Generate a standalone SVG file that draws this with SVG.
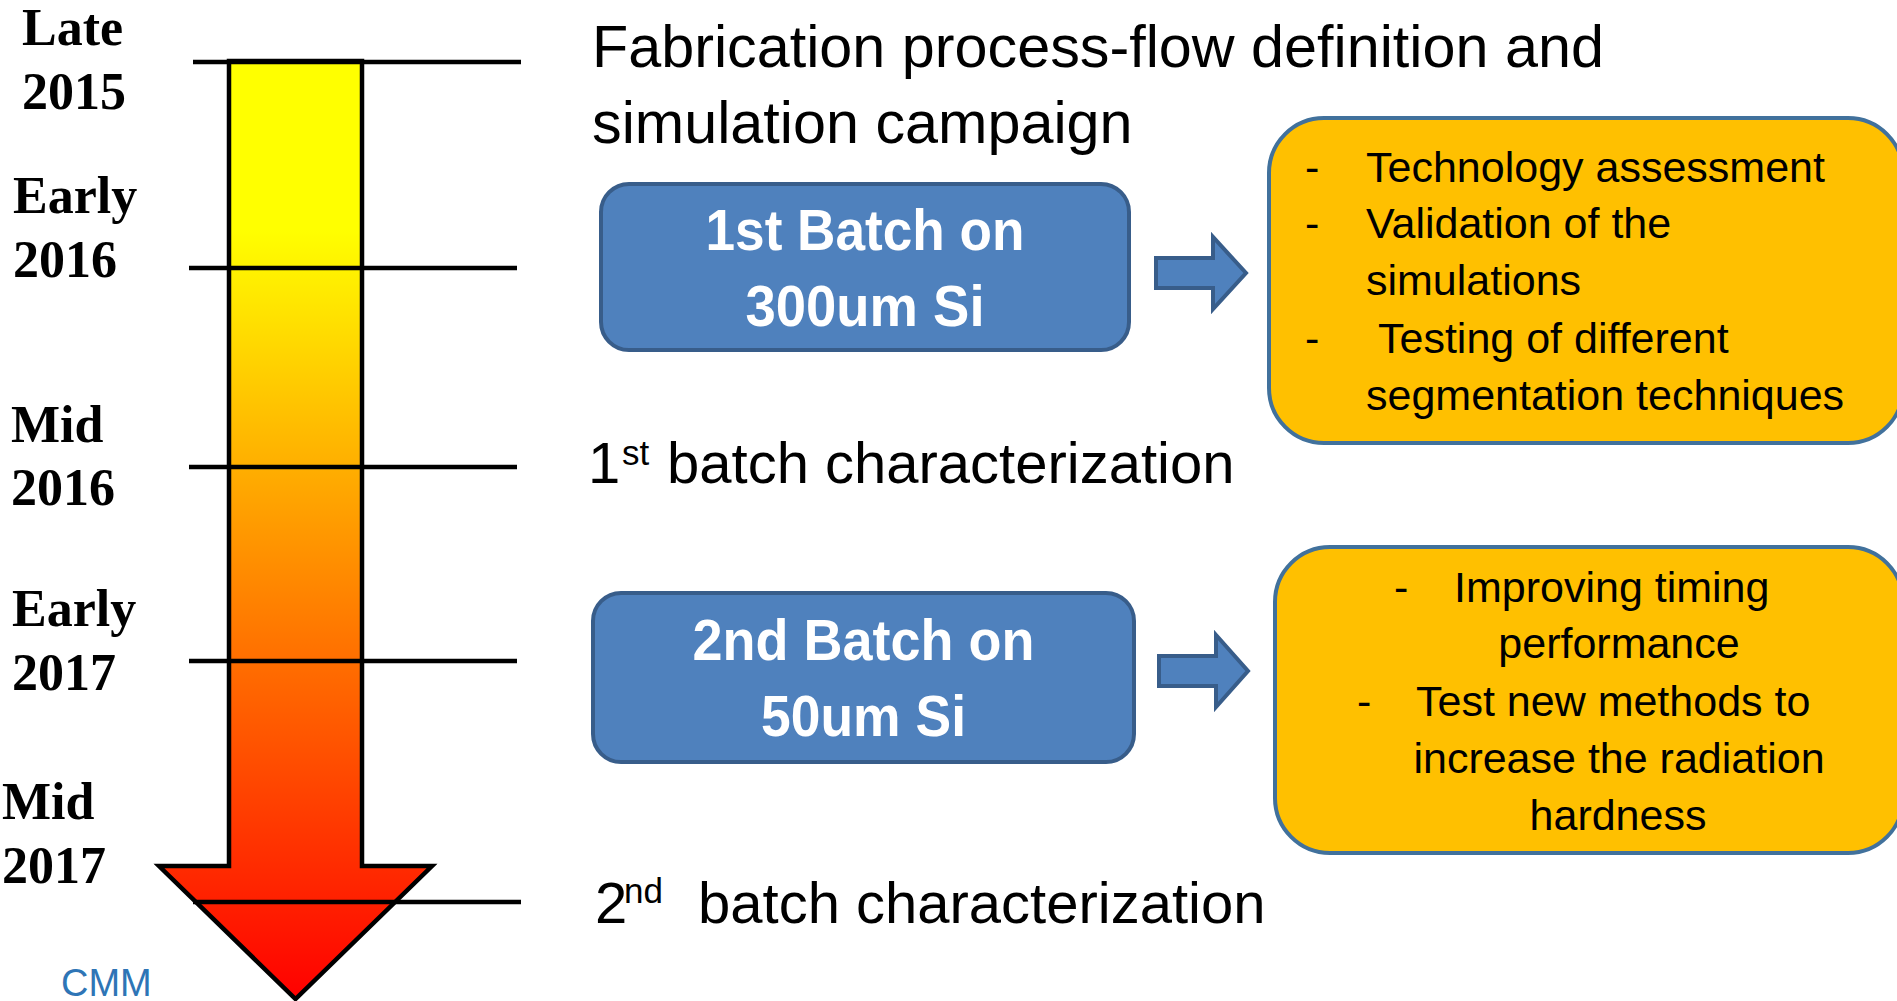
<svg xmlns="http://www.w3.org/2000/svg" width="1897" height="1001" viewBox="0 0 1897 1001">
  <defs>
    <linearGradient id="timeGrad" gradientUnits="userSpaceOnUse" x1="0" y1="61" x2="0" y2="999">
      <stop offset="0" stop-color="#FFFF00"/>
      <stop offset="0.18" stop-color="#FFFF00"/>
      <stop offset="0.5" stop-color="#FF9900"/>
      <stop offset="1" stop-color="#FF0000"/>
    </linearGradient>
  </defs>
  <style>
    .year { font-family: "Liberation Serif", "Times New Roman", serif; font-weight: bold; font-size: 52px; fill: #000; }
    .tick { stroke: #000; stroke-width: 4.5; fill: none; }
    .body { font-family: "Liberation Sans", Arial, sans-serif; font-size: 58px; fill: #000; }
    .title { font-size: 59.3px; }
    .sup { font-size: 35px; }
    .batch rect { fill: #4F81BD; stroke: #385D8A; stroke-width: 4; }
    .batch text { font-family: "Liberation Sans", Arial, sans-serif; font-weight: bold; font-size: 57px; fill: #FFFFFF; text-anchor: middle; }
    .note rect { fill: #FFC000; stroke: #41719C; stroke-width: 4; }
    .note text { font-family: "Liberation Sans", Arial, sans-serif; font-size: 43px; fill: #000; }
    .blockArrow { fill: #4F81BD; stroke: #385D8A; stroke-width: 4; stroke-linejoin: miter; }
  </style>

  <rect width="1897" height="1001" fill="#FFFFFF"/>

  <!-- timeline arrow -->
  <g id="timeline">
    <path d="M229,61 H362 V866 H432 L295.5,999 L159,866 H229 Z" fill="url(#timeGrad)" stroke="#000" stroke-width="4.5"/>
    <line class="tick" x1="193" y1="62" x2="521" y2="62"/>
    <line class="tick" x1="189" y1="268" x2="517" y2="268"/>
    <line class="tick" x1="189" y1="467" x2="517" y2="467"/>
    <line class="tick" x1="189" y1="661" x2="517" y2="661"/>
    <line class="tick" x1="193" y1="902" x2="521" y2="902"/>
  </g>

  <!-- date labels -->
  <g id="dates">
    <text class="year" x="22" y="45">Late</text>
    <text class="year" x="22" y="109">2015</text>
    <text class="year" x="13" y="213">Early</text>
    <text class="year" x="13" y="277">2016</text>
    <text class="year" x="11" y="442">Mid</text>
    <text class="year" x="11" y="505">2016</text>
    <text class="year" x="12" y="626">Early</text>
    <text class="year" x="12" y="690">2017</text>
    <text class="year" x="2" y="819">Mid</text>
    <text class="year" x="2" y="883">2017</text>
  </g>

  <!-- milestone captions -->
  <g id="milestone-fabrication">
    <text class="body title" x="592" y="67">Fabrication process-flow definition and</text>
    <text class="body title" x="592" y="143">simulation campaign</text>
  </g>
  <g id="milestone-first-characterization">
    <text class="body" y="483"><tspan x="588">1</tspan><tspan class="sup" x="622" y="465">st</tspan><tspan x="667" y="483">batch characterization</tspan></text>
  </g>
  <g id="milestone-second-characterization">
    <text class="body" y="923"><tspan x="595">2</tspan><tspan class="sup" x="624" y="903">nd</tspan><tspan x="698" y="923">batch characterization</tspan></text>
  </g>

  <!-- batch boxes -->
  <g id="batch1" class="batch">
    <rect x="601" y="184" width="528" height="166" rx="28" ry="28"/>
    <text x="865" y="250" textLength="319" lengthAdjust="spacingAndGlyphs">1st Batch on</text>
    <text x="865" y="326" textLength="239" lengthAdjust="spacingAndGlyphs">300um Si</text>
  </g>
  <g id="batch2" class="batch">
    <rect x="593" y="593" width="541" height="169" rx="28" ry="28"/>
    <text x="863.5" y="660" textLength="342" lengthAdjust="spacingAndGlyphs">2nd Batch on</text>
    <text x="863.5" y="736" textLength="205" lengthAdjust="spacingAndGlyphs">50um Si</text>
  </g>

  <!-- outcome boxes -->
  <g id="outcome1" class="note">
    <rect x="1269" y="118" width="634" height="325" rx="55" ry="55"/>
    <text x="1305" y="182">-</text><text x="1366" y="182">Technology assessment</text>
    <text x="1305" y="238">-</text><text x="1366" y="238">Validation of the</text>
    <text x="1366" y="295">simulations</text>
    <text x="1305" y="353">-</text><text x="1378" y="353">Testing of different</text>
    <text x="1366" y="410">segmentation techniques</text>
  </g>
  <g id="outcome2" class="note">
    <rect x="1275" y="547" width="628" height="306" rx="55" ry="55"/>
    <text x="1394" y="602">-</text><text x="1454" y="602">Improving timing</text>
    <text x="1619" y="658" text-anchor="middle">performance</text>
    <text x="1357" y="716">-</text><text x="1416" y="716">Test new methods to</text>
    <text x="1619" y="773" text-anchor="middle">increase the radiation</text>
    <text x="1618" y="830" text-anchor="middle">hardness</text>
  </g>

  <!-- connectors -->
  <g id="connectors">
    <path class="blockArrow" d="M1156,258 H1213 V237 L1246,273 L1213,309 V288 H1156 Z"/>
    <path class="blockArrow" d="M1159,656 H1216 V635 L1248,671 L1216,707 V686 H1159 Z"/>
  </g>

  <!-- author mark -->
  <text x="61" y="996" font-family="Liberation Sans, Arial, sans-serif" font-size="38" fill="#2E75B6">CMM</text>
</svg>
